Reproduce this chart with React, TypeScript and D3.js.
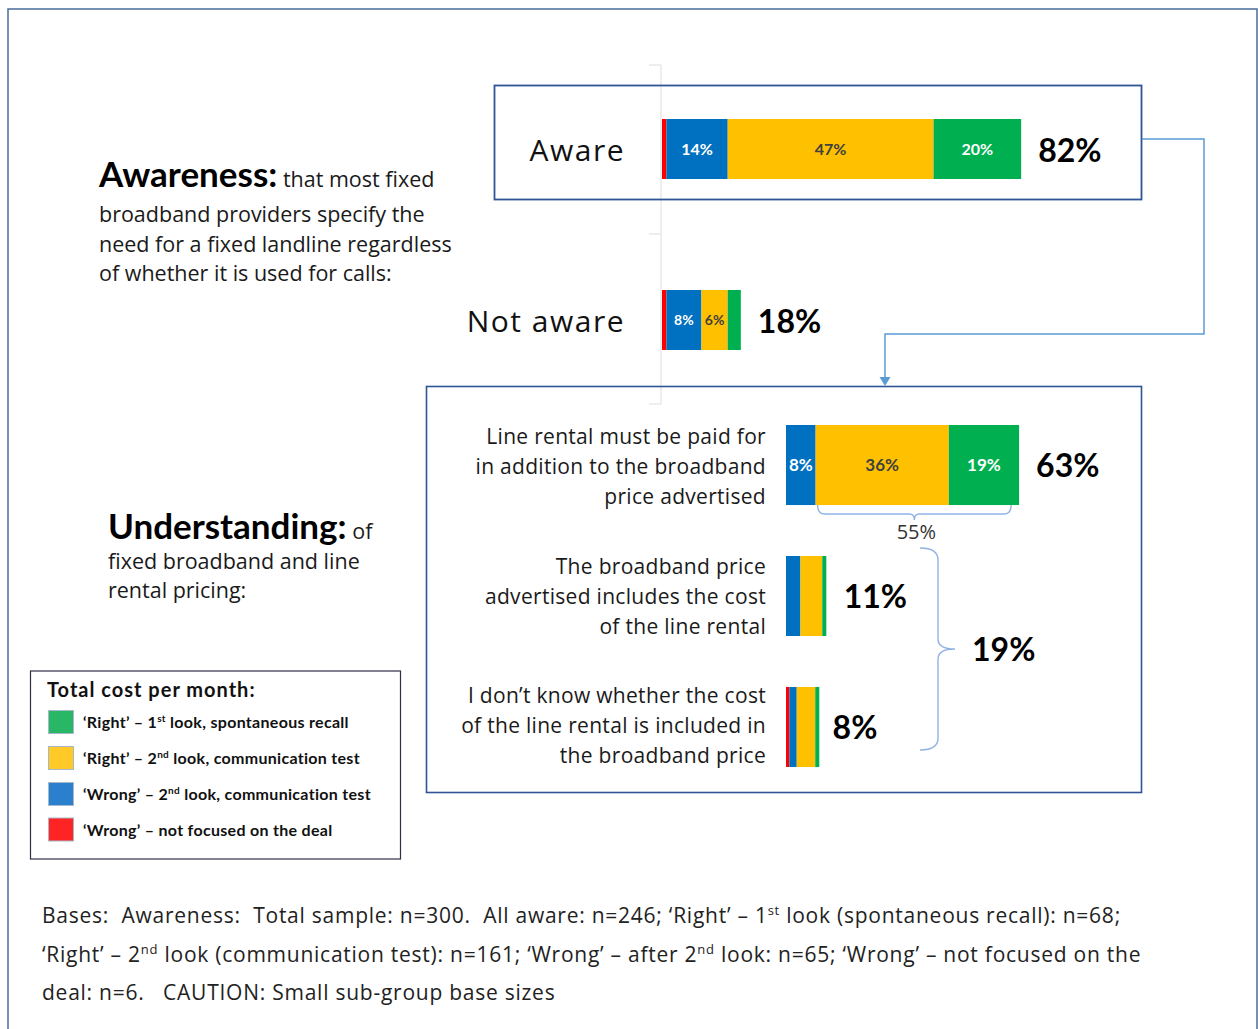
import React from 'react';
import * as d3 from 'd3';

// answer groups, left to right inside every bar
const segKeys = ['wrongNotFocused', 'wrong2nd', 'right2nd', 'right1st'];
const segColors = ['#FF0000', '#0070C0', '#FFC000', '#00B050'];
const segTextColors = ['#FFFFFF', '#FFFFFF', '#404040', '#FFFFFF'];

// Awareness
const awareRows = ['Aware', 'Not aware'];
const awareTotals = [82, 18];
const awareSegs = [
  [1, 14, 47, 20],
  [1, 8, 6, 3],
];
const awareShowLabels = [
  [false, true, true, true],
  [false, true, true, false],
];

// Understanding
const undRows = [
  ['Line rental must be paid for', 'in addition to the broadband', 'price advertised'],
  ['The broadband price', 'advertised includes the cost', 'of the line rental'],
  ['I don\u2019t know whether the cost', 'of the line rental is included in', 'the broadband price'],
];
const undTotals = [63, 11, 8];
const undSegs = [
  [0, 8, 36, 19],
  [0, 3.9, 5.9, 1.1],
  [0.9, 2, 5, 1.1],
];
const undShowLabels = [
  [false, true, true, true],
  [false, false, false, false],
  [false, false, false, false],
];

// legend (top to bottom)
const legendTitle = 'Total cost per month:';
const legendItems = [
  ['\u2018Right\u2019 \u2013 1', 'st', ' look, spontaneous recall'],
  ['\u2018Right\u2019 \u2013 2', 'nd', ' look, communication test'],
  ['\u2018Wrong\u2019 \u2013 2', 'nd', ' look, communication\u00a0test'],
  ['\u2018Wrong\u2019 \u2013 not focused on the deal', '', ''],
];
const legendColors = ['#27B765', '#FFC928', '#2A80CC', '#FF2424'];

// footnote, [text, superscript] pieces
const baseLines = [
  [['Bases:  Awareness:  Total sample: n=300.  All aware: n=246; \u2018Right\u2019 \u2013 1', 'st'], [' look (spontaneous recall): n=68;', '']],
  [['\u2018Right\u2019 \u2013 2', 'nd'], [' look (communication test): n=161; \u2018Wrong\u2019 \u2013 after 2', 'nd'], [' look: n=65; \u2018Wrong\u2019 \u2013 not focused on the', '']],
  [['deal: n=6.   CAUTION: Small sub-group base sizes', '']],
];

const SANS = "'Open Sans', 'Noto Sans', sans-serif";
const BOLD = "Lato, 'Open Sans', sans-serif";
const BRACE = '#8FB4E3';
const ARROW = '#5B9BD5';

function StackedBar({ values, x, y, h, show, fontSize }) {
  const ends = d3.cumsum(values);
  return (
    <g>
      {values.map((v, i) => {
        if (v <= 0) return null;
        const x0 = x(ends[i] - v);
        const x1 = x(ends[i]);
        return (
          <g key={segKeys[i]}>
            <rect x={x0} y={y} width={x1 - x0} height={h} fill={segColors[i]} />
            {show[i] && (
              <text x={(x0 + x1) / 2} y={y + h / 2} dy="0.36em" textAnchor="middle"
                fill={segTextColors[i]} fontFamily={BOLD} fontWeight="bold" fontSize={fontSize}>
                {Math.round(v)}%
              </text>
            )}
          </g>
        );
      })}
    </g>
  );
}

export default function App() {
  const xA = d3.scaleLinear().domain([0, 100]).range([662, 1100]);
  const yA = d3.scaleBand().domain(awareRows).range([119, 350]).paddingInner(0.649);
  const xU = d3.scaleLinear().domain([0, 100]).range([786, 1156]);
  const undIds = undRows.map((_, i) => String(i));
  const yU = d3.scaleBand().domain(undIds).range([425, 767]).paddingInner(0.389);

  // bracket under first understanding bar: all "right" answers
  const rightSum = undSegs[0][2] + undSegs[0][3];
  const bx1 = xU(undSegs[0][0] + undSegs[0][1]) + 2;
  const bx2 = xU(undTotals[0]) - 8;
  const bmid = (bx1 + bx2) / 2;
  const by0 = yU('0') + yU.bandwidth();
  const by1 = by0 + 9;
  const underBrace = `M${bx1},${by0} Q${bx1},${by1} ${bx1 + 7},${by1} L${bmid - 5},${by1} Q${bmid},${by1} ${bmid},${by1 + 6} Q${bmid},${by1} ${bmid + 5},${by1} L${bx2 - 7},${by1} Q${bx2},${by1} ${bx2},${by0}`;

  // curly brace for the two "wrong" rows
  const wrongSum = undTotals[1] + undTotals[2];
  const cy0 = yU('1') - 8;
  const cy2 = yU('2') + yU.bandwidth() - 17;
  const cmid = (cy0 + cy2) / 2;
  const cx0 = 920, cx1 = 938, cx2 = 955;
  const curly = `M${cx0},${cy0} Q${cx1},${cy0} ${cx1},${cy0 + 12} L${cx1},${cmid - 10} Q${cx1},${cmid} ${cx2},${cmid} Q${cx1},${cmid} ${cx1},${cmid + 10} L${cx1},${cy2 - 12} Q${cx1},${cy2} ${cx0},${cy2}`;

  const legendY = [710.5, 746.5, 782.5, 818];

  return (
    <svg width={1258} height={1029} style={{ position: 'absolute', left: 0, top: 0, display: 'block', background: '#fff' }}>
      {/* outer frame */}
      <path d="M8,1029 L8,9 L1257,9 L1257,1029" fill="none" stroke="#4A6C9B" strokeWidth={1.5} />

      {/* faint category axis of the awareness chart */}
      <g stroke="#E3E3E3" strokeWidth={1.2}>
        <line x1={661} x2={661} y1={65} y2={404} />
        {[65, 234, 404].map(t => <line key={t} x1={649} x2={661} y1={t} y2={t} />)}
      </g>

      {/* boxes */}
      <rect x={494.5} y={85.5} width={647} height={114} fill="none" stroke="#2F5597" strokeWidth={1.8} />
      <rect x={426.5} y={386.5} width={715} height={406} fill="none" stroke="#2F5597" strokeWidth={1.6} />

      {/* connector arrow */}
      <path d="M1142,139 L1204,139 L1204,334 L885,334 L885,378" fill="none" stroke={ARROW} strokeWidth={1.5} />
      <path d="M879.5,377 L890.5,377 L885,386 Z" fill={ARROW} />

      {/* left paragraphs */}
      <text x={99} y={187} fontFamily={SANS} fontSize={21.5} fill="#1a1a1a">
        <tspan fontFamily={BOLD} fontWeight="bold" fontSize={35} fill="#000">Awareness:</tspan>
        <tspan> that most fixed</tspan>
      </text>
      {['broadband providers specify the', 'need for a fixed landline regardless', 'of whether it is used for calls:'].map((t, i) => (
        <text key={t} x={99} y={222 + i * 29.5} fontFamily={SANS} fontSize={21.5} fill="#1a1a1a">{t}</text>
      ))}
      <text x={108} y={539} fontFamily={SANS} fontSize={21.5} fill="#1a1a1a">
        <tspan fontFamily={BOLD} fontWeight="bold" fontSize={35} fill="#000">Understanding:</tspan>
        <tspan> of</tspan>
      </text>
      {['fixed broadband and line', 'rental pricing:'].map((t, i) => (
        <text key={t} x={108} y={569 + i * 29} fontFamily={SANS} fontSize={21.5} fill="#1a1a1a">{t}</text>
      ))}

      {/* awareness bars */}
      {awareRows.map((r, i) => {
        const y = yA(r);
        const h = yA.bandwidth();
        return (
          <g key={r}>
            <text x={625} y={y + h / 2 + 12} textAnchor="end" fontFamily={SANS} fontSize={30} letterSpacing={1.5} fill="#111">{r}</text>
            <StackedBar values={awareSegs[i]} x={xA} y={y} h={h} show={awareShowLabels[i]} fontSize={i === 0 ? 16 : 14} />
            <text x={xA(awareTotals[i]) + 17} y={y + h / 2 + 13} fontFamily={BOLD} fontWeight="bold" fontSize={32} fill="#000">{awareTotals[i]}%</text>
          </g>
        );
      })}

      {/* understanding bars */}
      {undRows.map((lines, i) => {
        const y = yU(undIds[i]);
        const h = yU.bandwidth();
        const c = y + h / 2;
        return (
          <g key={i}>
            {lines.map((t, j) => (
              <text key={j} x={766} y={c + 9 + (j - 1) * 30 - i * 1.5} textAnchor="end" fontFamily={SANS} fontSize={21} letterSpacing={0.3} fill="#1a1a1a">{t}</text>
            ))}
            <StackedBar values={undSegs[i]} x={xU} y={y} h={h} show={undShowLabels[i]} fontSize={17} />
            <text x={xU(undTotals[i]) + 17} y={c + 12} fontFamily={BOLD} fontWeight="bold" fontSize={32} fill="#000">{undTotals[i]}%</text>
          </g>
        );
      })}

      {/* brackets */}
      <path d={underBrace} fill="none" stroke={BRACE} strokeWidth={1.4} />
      <text x={bmid + 2} y={539} textAnchor="middle" fontFamily={SANS} fontSize={20} fill="#333">{rightSum}%</text>
      <path d={curly} fill="none" stroke={BRACE} strokeWidth={1.4} />
      <text x={972} y={cmid + 12} fontFamily={BOLD} fontWeight="bold" fontSize={32} fill="#000">{wrongSum}%</text>

      {/* legend */}
      <rect x={30.5} y={671} width={370} height={188} fill="#fff" stroke="#2E2E48" strokeWidth={1.2} />
      <text x={47} y={697} fontFamily={BOLD} fontWeight="bold" fontSize={20} letterSpacing={1} fill="#111">{legendTitle}</text>
      {legendItems.map((it, i) => (
        <g key={i}>
          <rect x={48.5} y={legendY[i]} width={25} height={23} fill={legendColors[i]} stroke="#A9B8C8" strokeWidth={1} />
          <text x={83} y={legendY[i] + 17.5} fontFamily={BOLD} fontWeight="bold" fontSize={16} letterSpacing={0.3} fill="#111">
            <tspan>{it[0]}</tspan>
            {it[1] && <tspan fontSize={10} dy={-6}>{it[1]}</tspan>}
            {it[2] && <tspan dy={it[1] ? 6 : 0}>{it[2]}</tspan>}
          </text>
        </g>
      ))}

      {/* footnote */}
      {baseLines.map((parts, i) => (
        <text key={i} x={42} y={923 + i * 38.5} fontFamily={SANS} fontSize={21} letterSpacing={0.75} fill="#222" style={{ whiteSpace: 'pre' }}>
          {parts.map((p, j) => (
            <React.Fragment key={j}>
              <tspan dy={j > 0 && parts[j - 1][1] ? 8 : 0}>{p[0]}</tspan>
              {p[1] && <tspan fontSize={13} dy={-8}>{p[1]}</tspan>}
            </React.Fragment>
          ))}
        </text>
      ))}
    </svg>
  );
}
